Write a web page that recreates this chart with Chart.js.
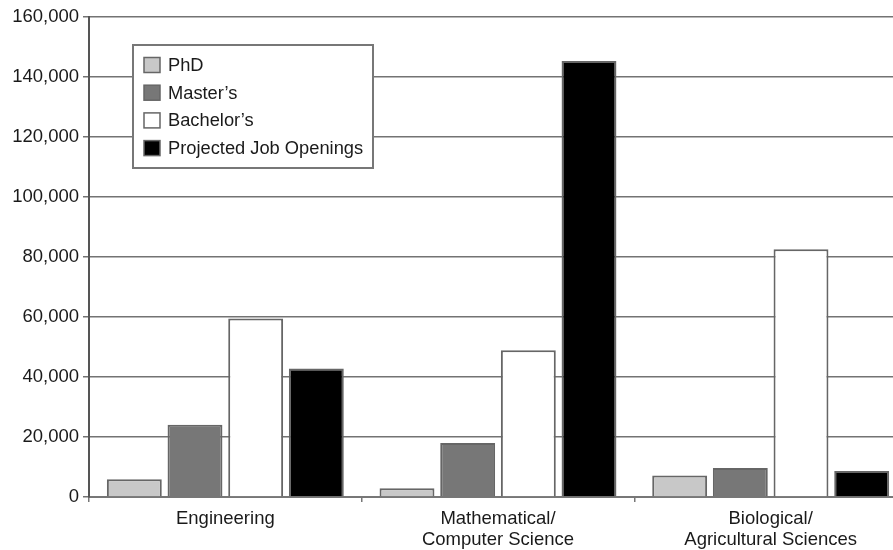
<!DOCTYPE html>
<html>
<head>
<meta charset="utf-8">
<script src="https://cdn.jsdelivr.net/npm/chart.js@4.4.1/dist/chart.umd.min.js"></script>
<style>
  html, body { margin: 0; padding: 0; background: #fff; overflow: hidden; }
  #wrap { width: 907px; height: 550px; position: relative; }
</style>
</head>
<body>
<div id="wrap"><canvas id="chart"></canvas></div>
<script>
// data
const categories = [
  'Engineering',
  ['Mathematical/', 'Computer Science'],
  ['Biological/', 'Agricultural Sciences']
];
const seriesNames = ['PhD', 'Master\u2019s', 'Bachelor\u2019s', 'Projected Job Openings'];
const phd = [5900, 2900, 7200];
const masters = [24100, 18000, 9700];
const bachelors = [59500, 48900, 82600];
const jobOpenings = [42800, 145300, 8700];
const yTicks = [0, 20000, 40000, 60000, 80000, 100000, 120000, 140000, 160000];

const fills = ['#c8c8c8', '#777777', '#ffffff', '#000000'];
const FONT = '"Liberation Sans", Arial, sans-serif';

// legend box inside the plot, like the original
const boxLegend = {
  id: 'boxLegend',
  afterDraw: function (chart) {
    var ctx = chart.ctx;
    var x = 133, y = 45, w = 240, h = 123;
    ctx.save();
    ctx.fillStyle = '#fff';
    ctx.fillRect(x, y, w, h);
    ctx.strokeStyle = '#777';
    ctx.lineWidth = 2;
    ctx.strokeRect(x, y, w, h);
    ctx.font = '18.3px ' + FONT;
    ctx.textBaseline = 'middle';
    chart.data.datasets.forEach(function (ds, i) {
      var cy = y + 20 + i * 27.7;
      ctx.fillStyle = ds.backgroundColor;
      ctx.fillRect(144, cy - 7.5, 16, 15);
      ctx.strokeStyle = '#666';
      ctx.lineWidth = 1.5;
      ctx.strokeRect(144, cy - 7.5, 16, 15);
      ctx.fillStyle = '#1a1a1a';
      ctx.fillText(ds.label, 168, cy + 1);
    });
    ctx.restore();
  }
};

const values = [phd, masters, bachelors, jobOpenings];

new Chart(document.getElementById('chart'), {
  type: 'bar',
  data: {
    labels: categories,
    datasets: seriesNames.map(function (name, i) {
      return {
        label: name,
        data: values[i],
        backgroundColor: fills[i],
        borderColor: '#666',
        borderWidth: 2,
        categoryPercentage: 0.89,
        barPercentage: 0.905
      };
    })
  },
  options: {
    responsive: true,
    maintainAspectRatio: false,
    animation: false,
    layout: { padding: { top: 17, left: 0, right: 0, bottom: 0 } },
    plugins: {
      legend: { display: false },
      tooltip: { enabled: false }
    },
    scales: {
      x: {
        grid: {
          offset: true,
          drawOnChartArea: false,
          drawTicks: true,
          tickLength: 5,
          color: '#777',
          lineWidth: 1.5
        },
        border: { color: '#777', width: 2 },
        ticks: {
          color: '#1a1a1a',
          font: { family: FONT, size: 18.5, lineHeight: 1.12 },
          padding: 7,
          maxRotation: 0,
          autoSkip: false
        },
        afterFit: function (scale) { scale.height = 53; }
      },
      y: {
        min: 0,
        max: 160000,
        afterBuildTicks: function (scale) {
          scale.ticks = yTicks.map(function (v) { return { value: v }; });
        },
        grid: {
          color: '#737373',
          lineWidth: 1.5,
          drawTicks: true,
          tickLength: 6
        },
        border: { color: '#555', width: 2 },
        ticks: {
          color: '#1a1a1a',
          font: { family: FONT, size: 18.5 },
          padding: 4,
          callback: function (v) { return v.toLocaleString('en-US'); }
        },
        afterFit: function (scale) { scale.width = 89; }
      }
    }
  },
  plugins: [boxLegend]
});
</script>
</body>
</html>
